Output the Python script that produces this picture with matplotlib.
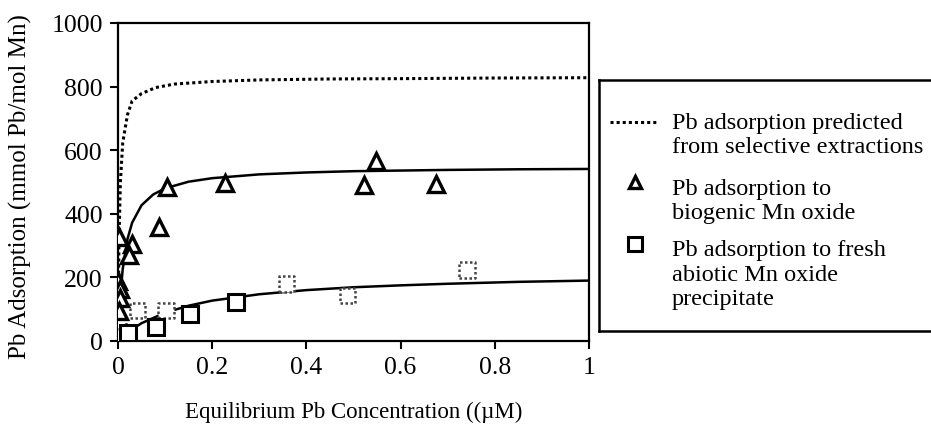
import matplotlib
matplotlib.use("Agg")
import matplotlib.pyplot as plt

plt.rcParams['font.family'] = ['Liberation Serif', 'DejaVu Serif']

# ---- data ----
# Pb adsorption to biogenic Mn oxide (triangles)
bio_x = [0.003, 0.030, 0.024, 0.000, 0.005, 0.005, 0.003, 0.088, 0.105, 0.228, 0.523, 0.548, 0.675]
bio_y = [326, 305, 270, 190, 165, 135, 95, 357, 484, 497, 490, 567, 494]

# Pb adsorption to fresh abiotic Mn oxide (solid squares)
abio_x = [0.022, 0.081, 0.152, 0.251]
abio_y = [25, 43, 85, 122]

# additional abiotic squares printed in grey/dotted outline
abio2_x = [0.000, 0.002, 0.041, 0.102, 0.357, 0.488, 0.741]
abio2_y = [45, 15, 95, 97, 179, 143, 223]

# fitted / predicted curves
pred_x = [0.0, 0.002, 0.005, 0.010, 0.020, 0.030, 0.050, 0.080, 0.120, 0.200, 0.300, 0.450, 0.600, 0.800, 1.000]
pred_y = [0, 311, 498, 623, 711, 755, 778, 797, 808, 816, 821, 824, 825, 827, 828]

biofit_x = [0.0, 0.002, 0.005, 0.010, 0.020, 0.030, 0.050, 0.075, 0.100, 0.150, 0.200, 0.300, 0.400, 0.500, 0.600, 0.700, 0.850, 1.000]
biofit_y = [0, 67, 142, 226, 320, 372, 427, 461, 480, 501, 512, 524, 530, 534, 536, 538, 540, 541]

abiofit_x = [0.020, 0.050, 0.100, 0.150, 0.200, 0.300, 0.400, 0.500, 0.600, 0.700, 0.850, 1.000]
abiofit_y = [27, 56, 89, 111, 127, 147, 160, 169, 175, 180, 186, 190]

x_ticks = [0, 0.2, 0.4, 0.6, 0.8, 1]
x_ticklabels = ['0', '0.2', '0.4', '0.6', '0.8', '1']
y_ticks = [0, 200, 400, 600, 800, 1000]

legend_labels = [
    ["Pb adsorption predicted", "from selective extractions"],
    ["Pb adsorption to", "biogenic Mn oxide"],
    ["Pb adsorption to fresh", "abiotic Mn oxide", "precipitate"],
]

W, H = 931, 427
fig = plt.figure(figsize=(W / 100, H / 100), dpi=100)
ax = fig.add_axes([118 / W, (H - 342) / H, (589 - 118) / W, (342 - 24) / H])

ax.plot(pred_x, pred_y, color='black', lw=2.2, linestyle=(0, (1, 1)), zorder=2)
ax.plot(biofit_x, biofit_y, color='black', lw=1.8, zorder=2)
ax.plot(abiofit_x, abiofit_y, color='black', lw=1.8, zorder=2)

ax.scatter(abio2_x, abio2_y, marker='s', s=11 ** 2, facecolors='white',
           edgecolors='#444444', linewidths=1.8, linestyles=(0, (1, 1)), zorder=3)
ax.plot(abio_x, abio_y, linestyle='none', marker='s', ms=11, mfc='white',
        mec='black', mew=2.2, zorder=4)
ax.plot(bio_x, bio_y, linestyle='none', marker='^', ms=11, mfc='white',
        mec='black', mew=2.4, zorder=5)

ax.set_xlim(0, 1)
ax.set_ylim(0, 1000)
ax.set_xticks(x_ticks)
ax.set_xticklabels(x_ticklabels)
ax.set_yticks(y_ticks)
ax.tick_params(direction='out', length=6, width=1.5, labelsize=18.5, pad=5)
for sp in ax.spines.values():
    sp.set_linewidth(1.6)
ax.set_xlabel("Equilibrium Pb Concentration ((µM)", fontsize=16.5)
ax.set_ylabel("Pb Adsorption (mmol Pb/mol Mn)", fontsize=18)
ax.xaxis.set_label_coords(0.5, (342 - 402) / 318)
ax.yaxis.set_label_coords((32 - 118) / 471, 0.49)

# ---- legend panel ----
lx0, lx1, ly0, ly1 = 599, 940, 81, 332
lax = fig.add_axes([lx0 / W, (H - ly1) / H, (lx1 - lx0) / W, (ly1 - ly0) / H])
lax.set_xlim(lx0, lx1)
lax.set_ylim(ly1, ly0)
lax.set_xticks([])
lax.set_yticks([])
for sp in lax.spines.values():
    sp.set_linewidth(1.8)

lax.plot([610, 657], [123, 123], color='black', lw=2.2, linestyle=(0, (1, 1)))
lax.plot([635], [183], marker='^', ms=9, mfc='white', mec='black', mew=2.4)
lax.plot([635], [245], marker='s', ms=10, mfc='white', mec='black', mew=2.2)

baselines = [[129, 153], [195, 219], [256, 281, 305]]
for lines, bls in zip(legend_labels, baselines):
    for txt, b in zip(lines, bls):
        lax.text(672, b, txt, fontsize=17.5, va='baseline', ha='left')

fig.savefig("out.png", dpi=100)
